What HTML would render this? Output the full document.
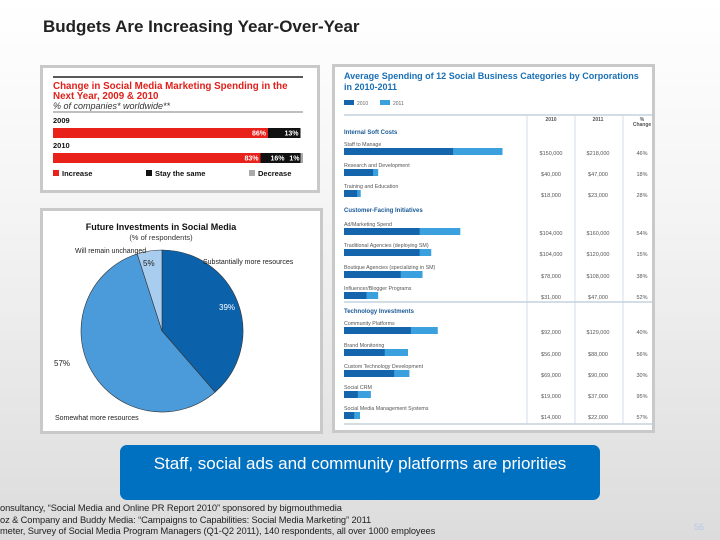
<!DOCTYPE html>
<html><head><meta charset="utf-8">
<style>
body{margin:0;width:720px;height:540px;overflow:hidden;font-family:"Liberation Sans",sans-serif;background:linear-gradient(#ffffff 0%,#f4f4f4 40%,#dcdcdc 100%);position:relative}
.abs{position:absolute}
.panel{position:absolute;background:#fff;border:3px solid #c9c9c9;box-sizing:border-box}
</style></head><body>
<div class="abs" style="left:43px;top:17px;font-size:17px;font-weight:bold;color:#222">Budgets Are Increasing Year-Over-Year</div>

<div class="panel" style="left:40px;top:65px;width:280px;height:128px">
<svg width="274" height="122" style="position:absolute;left:0;top:0" id="bars1">
<line x1="10" y1="9" x2="260" y2="9" stroke="#222" stroke-width="1.5"/>
<text x="10" y="21" font-size="9.8" font-weight="bold" fill="#e0201b">Change in Social Media Marketing Spending in the</text>
<text x="10" y="31" font-size="9.8" font-weight="bold" fill="#e0201b">Next Year, 2009 &amp; 2010</text>
<text x="10" y="41" font-size="9" font-style="italic" fill="#333">% of companies* worldwide**</text>
<line x1="10" y1="44" x2="260" y2="44" stroke="#555" stroke-width="0.8"/>
<text x="10" y="55" font-size="7.5" font-weight="bold" fill="#111">2009</text>
<text x="10" y="80" font-size="7.5" font-weight="bold" fill="#111">2010</text>
</svg>
</div>

<div class="panel" style="left:40px;top:208px;width:283px;height:226px">
<svg width="277" height="220" style="position:absolute;left:0;top:0" id="pie">
<text x="118" y="19" font-size="9" font-weight="bold" text-anchor="middle" fill="#111">Future Investments in Social Media</text>
<text x="118" y="29" font-size="7.5" text-anchor="middle" fill="#333">(% of respondents)</text>
</svg>
</div>

<div class="panel" style="left:332px;top:64px;width:323px;height:369px">
<svg width="317" height="363" style="position:absolute;left:0;top:0" id="tbl"></svg>
</div>

<div class="abs" style="left:120px;top:445px;width:480px;height:55px;background:#0070c0;border-radius:7px;color:#fff;font-size:17px;text-align:center;line-height:38px;font-family:'Liberation Sans Narrow','Liberation Sans',sans-serif">Staff, social ads and community platforms are priorities</div>

<div class="abs" style="left:0;top:503px;font-size:9.3px;line-height:11.5px;color:#222;white-space:nowrap;letter-spacing:-0.1px">
<div>onsultancy, “Social Media and Online PR Report 2010” sponsored by bigmouthmedia</div>
<div>oz &amp; Company and Buddy Media: “Campaigns to Capabilities: Social Media Marketing” 2011</div>
<div>meter, Survey of Social Media Program Managers (Q1-Q2 2011), 140 respondents, all over 1000 employees</div>
</div>
<div class="abs" style="left:694px;top:522px;font-size:9px;color:#b8c8e8">56</div>

<script>
const NS="http://www.w3.org/2000/svg";
function mk(p,t,a,txt){const e=document.createElementNS(NS,t);for(const k in a)e.setAttribute(k,a[k]);if(txt!==undefined)e.textContent=txt;p.appendChild(e);return e;}

// Chart 1: stacked bars
const years=["2009","2010"];
const increase=[86,83];
const same=[13,16];
const decrease=[0,1];
const c1=document.getElementById("bars1");
const bx0=10,bw=250,barY=[60,85],barH=10;
function xs(v){return v/100*bw;}
years.forEach((y,i)=>{
  let x=bx0;
  const segs=[[increase[i],"#e8211b"],[same[i],"#111"],[decrease[i],"#aaa"]];
  const hasDec=decrease[i]>0;
  segs.forEach((s,j)=>{
    const w=xs(s[0]);
    const r=mk(c1,"rect",{x:x,y:barY[i],width:w,height:barH,fill:s[1]});
    
    
    if(j===0) mk(c1,"text",{x:x+w-2,y:barY[i]+7.5,"font-size":7,"font-weight":"bold","text-anchor":"end",fill:"#fff"},s[0]+"%");
    if(j===1) mk(c1,"text",{x:x+w-(hasDec?16:2),y:barY[i]+7.5,"font-size":7,"font-weight":"bold","text-anchor":"end",fill:"#fff"},s[0]+"%");
    if(j===2 && hasDec) mk(c1,"text",{x:x-1,y:barY[i]+7.5,"font-size":7,"font-weight":"bold","text-anchor":"end",fill:"#fff"},s[0]+"%");
    x+=w;
  });
});
[["Increase","#e8211b",10],["Stay the same","#111",103],["Decrease","#aaa",206]].forEach(l=>{
  const g=mk(c1,"g",{});
  
  
  mk(g,"rect",{x:l[2],y:102,width:6,height:6,fill:l[1]});
  mk(g,"text",{x:l[2]+9,y:108,"font-size":7.5,"font-weight":"bold",fill:"#111"},l[0]);
});

// Chart 2: pie
const pieLabels=["Substantially more resources","Somewhat more resources","Will remain unchanged"];
const pieValues=[39,57,5];
const pieColors=["#0b62ab","#4b9ad9","#a9cdee"];
const pc=document.getElementById("pie");
const cx=119,cy=120,R=81;
const tot=pieValues.reduce((a,b)=>a+b,0);
let ang=-Math.PI/2;
pieValues.forEach((v,i)=>{
  const a2=ang+v/tot*2*Math.PI;
  const large=(a2-ang)>Math.PI?1:0;
  const p=mk(pc,"path",{d:`M${cx},${cy} L${cx+R*Math.cos(ang)},${cy+R*Math.sin(ang)} A${R},${R} 0 ${large} 1 ${cx+R*Math.cos(a2)},${cy+R*Math.sin(a2)} Z`,fill:pieColors[i],stroke:"#333","stroke-width":0.6});
  
  
  ang=a2;
});
mk(pc,"text",{x:176,y:99,"font-size":8,fill:"#fff"},pieValues[0]+"%");
mk(pc,"text",{x:11,y:155,"font-size":8,fill:"#222"},pieValues[1]+"%");
mk(pc,"text",{x:100,y:55,"font-size":8,fill:"#222"},pieValues[2]+"%");
mk(pc,"text",{x:160,y:53,"font-size":7,fill:"#222"},pieLabels[0]);
mk(pc,"text",{x:12,y:209,"font-size":7,fill:"#222"},pieLabels[1]);
mk(pc,"text",{x:32,y:42,"font-size":7,fill:"#222"},pieLabels[2]);

// Chart 3: table with bars
const categories=["Staff to Manage","Research and Development","Training and Education","Ad/Marketing Spend","Traditional Agencies (deploying SM)","Boutique Agencies (specializing in SM)","Influencer/Blogger Programs","Community Platforms","Brand Monitoring","Custom Technology Development","Social CRM","Social Media Management Systems"];
const spend2010=[150000,40000,18000,104000,104000,78000,31000,92000,56000,69000,19000,14000];
const spend2011=[218000,47000,23000,160000,120000,108000,47000,129000,88000,90000,37000,22000];
const pctChange=["46%","18%","28%","54%","15%","38%","52%","40%","56%","30%","95%","57%"];
const sectionNames=["Internal Soft Costs","Customer-Facing Initiatives","Technology Investments"];
const tc=document.getElementById("tbl");
const ox=332+3,oy=64+3;
const X=v=>344-ox+v/1000*0.727;
mk(tc,"text",{x:344-ox,y:79-oy,"font-size":9,"font-weight":"bold",fill:"#1a6fb5"},"Average Spending of 12 Social Business Categories by Corporations");
mk(tc,"text",{x:344-ox,y:90-oy,"font-size":9,"font-weight":"bold",fill:"#1a6fb5"},"in 2010-2011");
mk(tc,"rect",{x:344-ox,y:100-oy,width:10,height:5,fill:"#1565ad"});
mk(tc,"text",{x:357-ox,y:105-oy,"font-size":5,fill:"#666"},"2010");
mk(tc,"rect",{x:380-ox,y:100-oy,width:10,height:5,fill:"#3aa0de"});
mk(tc,"text",{x:393-ox,y:105-oy,"font-size":5,fill:"#666"},"2011");
mk(tc,"line",{x1:344-ox,y1:115-oy,x2:657-ox,y2:115-oy,stroke:"#8aa4bb","stroke-width":0.8});
mk(tc,"line",{x1:344-ox,y1:302-oy,x2:657-ox,y2:302-oy,stroke:"#8aa4bb","stroke-width":0.8});
mk(tc,"line",{x1:344-ox,y1:424-oy,x2:657-ox,y2:424-oy,stroke:"#8aa4bb","stroke-width":0.8});
[527,575,623].forEach(x=>mk(tc,"line",{x1:x-ox,y1:115-oy,x2:x-ox,y2:424-oy,stroke:"#c5d5e2","stroke-width":0.8}));
[["2010",551],["2011",598],["%",642]].forEach(h=>mk(tc,"text",{x:h[1]-ox,y:121-oy,"font-size":5,"font-weight":"bold","text-anchor":"middle",fill:"#555"},h[0]));
mk(tc,"text",{x:642-ox,y:126-oy,"font-size":5,"font-weight":"bold","text-anchor":"middle",fill:"#555"},"Change");
const secY=[134,212,313];
sectionNames.forEach((s,i)=>mk(tc,"text",{x:344-ox,y:secY[i]-oy,"font-size":6,"font-weight":"bold",fill:"#1a5a96"},s));
const rowBarY=[148,169,190,228,249,271,292,327,349,370,391,412];
const fmt=v=>"$"+v.toLocaleString("en-US");
categories.forEach((c,i)=>{
  const by=rowBarY[i]-oy;
  mk(tc,"text",{x:344-ox,y:by-2,"font-size":5.3,fill:"#555"},c);
  const r2=mk(tc,"rect",{x:X(0),y:by,width:X(spend2011[i])-X(0),height:7,fill:"#3aa0de"});
  
  
  const r1=mk(tc,"rect",{x:X(0),y:by,width:X(spend2010[i])-X(0),height:7,fill:"#1565ad"});
  
  
  mk(tc,"text",{x:551-ox,y:by+7,"font-size":5.5,"text-anchor":"middle",fill:"#555"},fmt(spend2010[i]));
  mk(tc,"text",{x:598-ox,y:by+7,"font-size":5.5,"text-anchor":"middle",fill:"#555"},fmt(spend2011[i]));
  mk(tc,"text",{x:642-ox,y:by+7,"font-size":5.5,"text-anchor":"middle",fill:"#555"},pctChange[i]);
});
</script>
</body></html>
